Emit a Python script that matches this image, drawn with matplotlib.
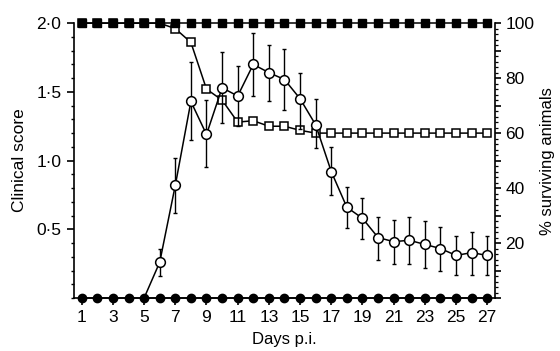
import numpy as np
import matplotlib
matplotlib.use('Agg')
import matplotlib.pyplot as plt
from matplotlib.ticker import MultipleLocator, FixedLocator, FuncFormatter

plt.rcParams['font.family'] = ['Liberation Sans', 'DejaVu Sans']

# days post infection
days = list(range(1, 28))

# clinical score of infected group (open circles), from day 5 on
clin_days = list(range(5, 28))
clin_score = [0.0, 0.26, 0.82, 1.43, 1.19, 1.53, 1.47, 1.70, 1.64, 1.59, 1.45, 1.26,
              0.92, 0.66, 0.58, 0.44, 0.41, 0.42, 0.39, 0.36, 0.31, 0.33, 0.31]
clin_err_lo = [0.0, 0.10, 0.20, 0.28, 0.24, 0.26, 0.22, 0.23, 0.21, 0.22, 0.22, 0.17,
               0.17, 0.15, 0.15, 0.16, 0.16, 0.17, 0.17, 0.16, 0.14, 0.16, 0.14]
clin_err_hi = [0.0, 0.10, 0.20, 0.29, 0.25, 0.26, 0.22, 0.23, 0.20, 0.22, 0.19, 0.19,
               0.18, 0.15, 0.15, 0.15, 0.16, 0.17, 0.17, 0.16, 0.14, 0.15, 0.14]

# clinical score of control group (filled circles)
ctrl_score = [0.0] * 27

# % surviving animals: infected (open squares) and control (filled squares)
surv_infected = [100, 100, 100, 100, 100, 100, 98, 93, 76, 72, 64, 64.5, 62.5, 62.5,
                 61, 60, 60, 60, 60, 60, 60, 60, 60, 60, 60, 60, 60]
surv_control = [100] * 27

fig = plt.figure(figsize=(5.6, 3.51), dpi=100)
ax = fig.add_axes([0.132, 0.151, 0.752, 0.783])
ax2 = ax.twinx()
ax.set_zorder(ax2.get_zorder() + 1)
ax.patch.set_visible(False)

lw = 1.1

# survival (right axis)
ax2.plot(days, surv_infected, color='black', lw=lw, marker='s', ms=5.2,
         mfc='white', mec='black', mew=1.1, clip_on=False, zorder=3)
ax2.plot(days, surv_control, color='black', lw=lw, marker='s', ms=6.3,
         mfc='black', mec='black', clip_on=False, zorder=4)

# clinical score (left axis)
ax.errorbar(clin_days[1:], clin_score[1:], yerr=[clin_err_lo[1:], clin_err_hi[1:]],
            fmt='none', ecolor='black', elinewidth=1.0, capsize=1.6, capthick=1.0,
            zorder=2)
ax.plot(clin_days, clin_score, color='black', lw=lw, marker='o', ms=7,
        mfc='white', mec='black', mew=1.1, markevery=list(range(1, len(clin_days))),
        clip_on=False, zorder=3)
ax.plot(days, ctrl_score, color='black', lw=lw, marker='o', ms=6,
        mfc='black', mec='black', clip_on=False, zorder=4)

ax.set_xlim(0.5, 27.5)
ax.set_ylim(0, 2.0)
ax2.set_ylim(0, 100)

for a in (ax, ax2):
    a.spines['top'].set_visible(False)
    for s in a.spines.values():
        s.set_linewidth(1.2)
ax.spines['right'].set_visible(False)
ax2.spines['left'].set_visible(False)
ax2.spines['bottom'].set_visible(False)

fmt_dot = FuncFormatter(lambda v, p: f'{v:.1f}'.replace('.', '\u00b7'))
ax.yaxis.set_major_locator(MultipleLocator(0.5))
ax.yaxis.set_minor_locator(MultipleLocator(0.1))
ax.yaxis.set_major_formatter(fmt_dot)
ax.set_yticks([0.5, 1.0, 1.5, 2.0])

ax.xaxis.set_major_locator(FixedLocator(list(range(1, 28, 2))))
ax.tick_params(axis='x', which='major', direction='out', length=5, width=1.2,
               labelsize=12.5, pad=4)
ax.tick_params(axis='y', which='major', direction='out', length=5, width=1.2,
               labelsize=12.5, pad=4)
ax.tick_params(axis='y', which='minor', direction='out', length=2.5, width=1.0)

ax2.yaxis.set_major_locator(MultipleLocator(10))
ax2.yaxis.set_minor_locator(MultipleLocator(2))
ax2.yaxis.set_major_formatter(FuncFormatter(lambda v, p: f'{int(v)}' if int(v) % 20 == 0 and v > 0 else ''))
ax2.tick_params(axis='y', which='major', direction='out', length=4.5, width=1.2,
                labelsize=12.5, pad=3)
ax2.tick_params(axis='y', which='minor', direction='out', length=2, width=0.9)

ax.set_xlabel('Days p.i.', fontsize=12, labelpad=5)
ax.set_ylabel('Clinical score', fontsize=12.5, labelpad=7)
ax2.set_ylabel('% surviving animals', fontsize=12, labelpad=4)

fig.savefig('out.png', dpi=100)
